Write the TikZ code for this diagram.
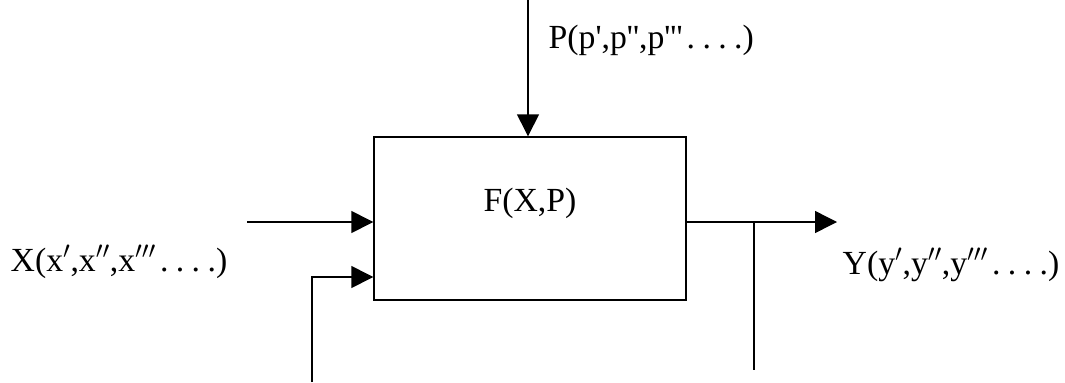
\documentclass[tikz,border=0pt]{standalone}
\usepackage{fontspec}
\setmainfont{Liberation Serif}
\usetikzlibrary{positioning,arrows.meta}

% widely spaced dots after the last prime
\newcommand{\wdots}{\hspace{0.12em}.\hspace{0.22em}.\hspace{0.22em}.\hspace{0.22em}.}

\begin{document}
\begin{tikzpicture}[
	font=\fontsize{24}{28}\selectfont,
	line width=1pt,
	flow/.style={-{Triangle[length=0.55cm,width=0.55cm]}},
	lbl/.style={inner sep=0pt, anchor=west},
	]
	\useasboundingbox (0,0) rectangle (26.625,-9.55);
	
	% 1. the process block
	% size
	\node [draw, minimum width=7.8cm, minimum height=4.075cm] (f) at (13.25,-5.4625) {};
	\node [above=0.39cm of f.center, anchor=center] (ftext) {F(X,P)};
	
	% 2. free ends of the signals
	% parameters from above
	\coordinate (pin) at (13.2,0);
	% input from the left and the feedback line
	\coordinate (xin) at (6.175,-5.55);
	\coordinate (back) at (7.8,-9.55);
	\coordinate (backin) at (f.west |- 0,-6.925);
	% output and its branch
	\coordinate (xout) at (f.east |- xin);
	\coordinate (yout) at (20.925,-5.55);
	\coordinate (tap) at (18.85,-5.55);
	\coordinate (tapend) at (18.85,-9.25);
	
	% 3. labels
	\node [lbl] (plabel) at (13.7,-1.0) {P(p\textquotesingle,p\textquotesingle\textquotesingle,p\textquotesingle\textquotesingle\textquotesingle\wdots)};
	\node [lbl] (xlabel) at (0.25,-6.55) {X(x$'$,x$''$,x$'''$\wdots)};
	\node [lbl] (ylabel) at (21.05,-6.625) {Y(y$'$,y$''$,y$'''$\wdots)};
	
	% 4. connectors
	\draw [flow] (pin) -- (pin |- f.north);
	\draw [flow] (xin) -- (f.west |- xin);
	\draw [flow] (back) |- (backin);
	\draw [flow] (xout) -- (yout);
	\draw (tap) -- (tapend);
\end{tikzpicture}
\end{document}
